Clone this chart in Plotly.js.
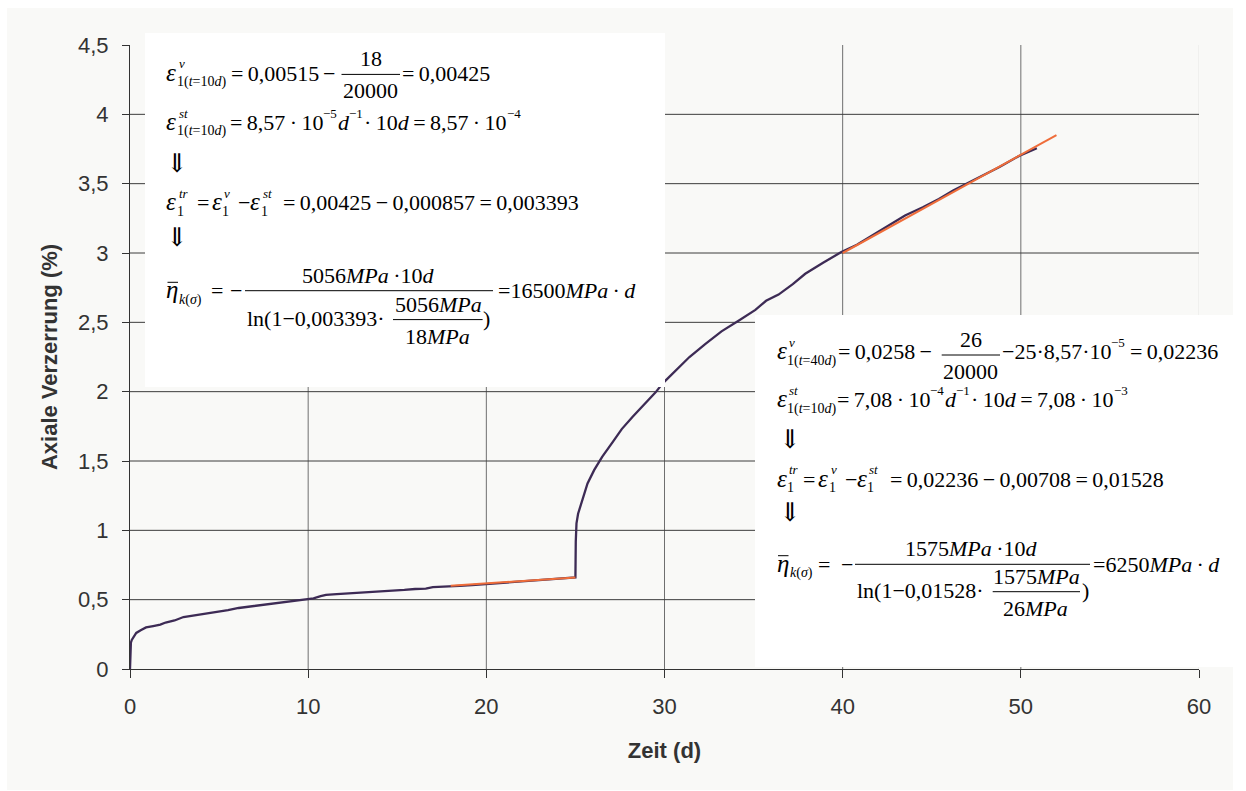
<!DOCTYPE html>
<html>
<head>
<meta charset="utf-8">
<script src="https://cdn.plot.ly/plotly-3.0.1.min.js"></script>
<style>
  html, body { margin: 0; padding: 0; background: #ffffff; }
  #chart { width: 1246px; height: 791px; }
</style>
</head>
<body>
<div id="chart"></div>
<script>
// Creep test: axial strain over time
const timeDays = [0, 0, 0.02, 0.05, 0.1, 0.2, 0.35, 0.6, 0.9, 1.3, 1.7, 2.0, 2.5, 3.0, 3.5, 4.0, 4.5, 5.0, 5.5, 6.1,
  6.7, 7.3, 7.8, 8.4, 9.0, 9.5, 9.9, 10.3, 10.7, 11.0, 11.6, 12.3, 13.0, 13.6, 14.2, 14.8, 15.4, 16.0, 16.6,
  17.0, 17.5, 17.9, 18.5, 19.2, 19.9, 20.5, 21.1, 21.7, 22.3, 22.9, 23.5, 24.1, 24.6, 24.95, 25.0, 25.02,
  25.06, 25.15, 25.4, 25.68, 26.05, 26.5, 27.1, 27.6, 28.2, 28.9, 29.5, 29.9, 30.6, 31.4, 32.3, 33.2, 34.2,
  35.1, 35.7, 36.4, 37.2, 37.9, 38.9, 39.9, 40.8, 41.7, 42.6, 43.5, 44.5, 45.4, 46.2, 47.1, 47.9, 48.8,
  49.9, 50.9];
const axialStrain = [0, 0.0, 0.12, 0.19, 0.21, 0.23, 0.26, 0.28, 0.30, 0.31, 0.32, 0.335, 0.35, 0.375, 0.385,
  0.395, 0.40, 0.415, 0.425, 0.44, 0.45, 0.46, 0.47, 0.48, 0.49, 0.497, 0.505, 0.51, 0.525, 0.535, 0.54,
  0.545, 0.55, 0.552, 0.56, 0.565, 0.57, 0.577, 0.58, 0.59, 0.595, 0.597, 0.60, 0.605, 0.612, 0.617, 0.62,
  0.628, 0.632, 0.637, 0.645, 0.65, 0.655, 0.66, 0.66, 0.92, 1.05, 1.12, 1.217, 1.338, 1.434, 1.53, 1.638,
  1.73, 1.818, 1.91, 1.995, 2.06, 2.15, 2.25, 2.345, 2.435, 2.515, 2.59, 2.655, 2.70, 2.775, 2.85, 2.93,
  3.005, 3.06, 3.13, 3.2, 3.27, 3.33, 3.39, 3.45, 3.51, 3.565, 3.62, 3.70, 3.755];

// Linear fits of the stationary creep phases
const fitLowT = [18, 25];
const fitLowStrain = [0.60, 0.66];
const fitHighT = [40, 52];
const fitHighStrain = [3.0, 3.85];

// Axis ticks and grid
const xTicks = [0, 10, 20, 30, 40, 50, 60];
const xTickText = ['0', '10', '20', '30', '40', '50', '60'];
const yTicks = [0, 0.5, 1, 1.5, 2, 2.5, 3, 3.5, 4, 4.5];
const yTickText = ['0', '0,5', '1', '1,5', '2', '2,5', '3', '3,5', '4', '4,5'];
const xGrid = [10, 20, 30, 40, 50];
const yGrid = [0.5, 1, 1.5, 2, 2.5, 3, 3.5, 4];

// Plot frame in page pixels
const L = 130, T = 45, W = 1069, H = 624;
const px = v => (v - L) / W;
const py = v => 1 - (v - T) / H;

const SANS = "'Liberation Sans', Arial, sans-serif";
const SERIF = "'Liberation Serif', 'Times New Roman', serif";
const ARROWFONT = "'DejaVu Serif', 'DejaVu Sans', serif";
const MAIN = 22, SUPSZ = 13, SUBSZ = 14, GREEK = 25;
const TH = '\u2009';
const MINUS = '\u2212', DOT = '\u00B7';

// text width measurement for chaining formula pieces
const ctx = document.createElement('canvas').getContext('2d');
function measure(html, size) {
  let w = 0, m;
  const re = /<i>(.*?)<\/i>|([^<]+)/g;
  while ((m = re.exec(html))) {
    const it = m[1] !== undefined;
    ctx.font = (it ? 'italic ' : '') + size + 'px "Liberation Serif"';
    w += ctx.measureText(it ? m[1] : m[2]).width;
  }
  return w;
}

const annotations = [];
const formulaLines = [];

function txt(s, x, base, size, anchor, family) {
  return {
    xref: 'paper', yref: 'paper', x: px(x), y: py(base - 0.3375 * size),
    xanchor: anchor || 'left', yanchor: 'middle', text: s, showarrow: false,
    font: { family: family || SERIF, size: size, color: '#000' },
    borderpad: 0, borderwidth: 0
  };
}
function rule(x0, x1, y) {
  formulaLines.push({ type: 'line', xref: 'paper', yref: 'paper', x0: px(x0), x1: px(x1), y0: py(y), y1: py(y),
    line: { color: '#000', width: 1 }, layer: 'above' });
}

// a formula row that places pieces one after another
function Row(base, x) { return { base: base, x: x }; }
function put(r, s, at, size) {
  size = size || MAIN;
  if (at !== undefined) r.x = at;
  annotations.push(txt(s, r.x, r.base, size));
  r.x += measure(s, size);
  return r;
}
function greek(r, ch, at) { return put(r, '<i>' + ch + '</i>', at, GREEK); }
function scripts(r, sp, sb, dxSup, dxSub) {
  dxSup = dxSup || 0; dxSub = dxSub || 0;
  let w = 0;
  if (sp) { annotations.push(txt(sp, r.x + dxSup, r.base - 12.5, SUPSZ)); w = Math.max(w, dxSup + measure(sp, SUPSZ)); }
  if (sb) { annotations.push(txt(sb, r.x + dxSub, r.base + 6, SUBSZ)); w = Math.max(w, dxSub + measure(sb, SUBSZ)); }
  r.x += w + 1;
  return r;
}
function frac(num, den, x0, x1, barY, numX, denX) {
  rule(x0, x1, barY);
  if (num) annotations.push(txt(num, numX !== undefined ? numX : (x0 + x1) / 2, barY - 8, MAIN, 'center'));
  if (den) annotations.push(txt(den, denX !== undefined ? denX : (x0 + x1) / 2, barY + 24, MAIN, 'center'));
}
function arrow(x, mid) { annotations.push(txt('\u21D3', x, mid + 0.345 * 26, 26, 'left', ARROWFONT)); }
function etaBar(x, base) { rule(x + 1.5, x + 12, base - 16); }

let r;
// ---- stationary phase at t = 10 d ----
r = Row(80.6);
greek(r, '\u03B5', 166); scripts(r, '<i>v</i>', '1(<i>t</i>=10<i>d</i>)', 3, 1);
put(r, '=' + TH + '0,00515', 231); put(r, MINUS, 323);
frac('18', '20000', 341.5, 400, 74.4);
put(r, '=' + TH + '0,00425', 401.5);

r = Row(130);
greek(r, '\u03B5', 166); scripts(r, '<i>st</i>', '1(<i>t</i>=10<i>d</i>)', 3, 1);
put(r, '=' + TH + '8,57' + TH + DOT + TH + '10', 230); scripts(r, MINUS + '5');
put(r, '<i>d</i>'); scripts(r, MINUS + '1');
put(r, DOT + TH + '10<i>d</i>' + TH + '=' + TH + '8,57' + TH + DOT + TH + '10'); scripts(r, MINUS + '4');

arrow(166, 163);

r = Row(210);
greek(r, '\u03B5', 166); scripts(r, '<i>tr</i>', '1', 3, 1);
put(r, '=', 196.8);
greek(r, '\u03B5', 211.5); scripts(r, '<i>v</i>', '1', 3, 1);
put(r, MINUS, 237.5);
greek(r, '\u03B5', 250); scripts(r, '<i>st</i>', '1', 3, 1);
put(r, '=' + TH + '0,00425' + TH + MINUS + TH + '0,000857' + TH + '=' + TH + '0,003393', 283);

arrow(166, 237);

r = Row(298.3);
greek(r, '\u03B7', 166); etaBar(166, 298.3); scripts(r, null, '<i>k</i>(<i>\u03C3</i>)', 0, 1);
put(r, '=', 210.5); put(r, MINUS, 230);
frac('5056<i>MPa</i>' + TH + DOT + '10<i>d</i>', null, 245, 493, 290.7, 368);
put(r, '=16500<i>MPa</i>' + TH + DOT + TH + '<i>d</i>', 497.5);
r = Row(326);
put(r, 'ln(1' + MINUS + '0,003393' + DOT, 246.5);
frac('5056<i>MPa</i>', '18<i>MPa</i>', 393, 482.6, 319.6, 438, 437);
put(r, ')', 483);

// ---- stationary phase at t = 40 d ----
r = Row(359.3);
greek(r, '\u03B5', 776.5); scripts(r, '<i>v</i>', '1(<i>t</i>=40<i>d</i>)', 3, 1);
put(r, '=' + TH + '0,0258', 838); put(r, TH + MINUS);
frac('26', '20000', 941.7, 1000, 355);
put(r, MINUS + '25' + DOT + '8,57' + DOT + '10', 1001.5); scripts(r, MINUS + '5');
put(r, '=' + TH + '0,02236', r.x + 4);

r = Row(407.3);
greek(r, '\u03B5', 776.5); scripts(r, '<i>st</i>', '1(<i>t</i>=10<i>d</i>)', 3, 1);
put(r, '=' + TH + '7,08' + TH + DOT + TH + '10', 837); scripts(r, MINUS + '4');
put(r, '<i>d</i>'); scripts(r, MINUS + '1');
put(r, DOT + TH + '10<i>d</i>' + TH + '=' + TH + '7,08' + TH + DOT + TH + '10'); scripts(r, MINUS + '3');

arrow(779, 439);

r = Row(486.7);
greek(r, '\u03B5', 776.5); scripts(r, '<i>tr</i>', '1', 3, 1);
put(r, '=', 803);
greek(r, '\u03B5', 818); scripts(r, '<i>v</i>', '1', 3, 1);
put(r, MINUS, 844.5);
greek(r, '\u03B5', 856.5); scripts(r, '<i>st</i>', '1', 3, 1);
put(r, '=' + TH + '0,02236' + TH + MINUS + TH + '0,00708' + TH + '=' + TH + '0,01528', 890);

arrow(779, 512);

r = Row(571.7);
greek(r, '\u03B7', 776.5); etaBar(776.5, 571.7); scripts(r, null, '<i>k</i>(<i>\u03C3</i>)', 0, 1);
put(r, '=', 818); put(r, MINUS, 840.5);
frac('1575<i>MPa</i>' + TH + DOT + '10<i>d</i>', null, 855, 1090, 564.3, 971.7);
put(r, '=6250<i>MPa</i>' + TH + DOT + TH + '<i>d</i>', 1093);
r = Row(598);
put(r, 'ln(1' + MINUS + '0,01528' + DOT, 856.5);
frac('1575<i>MPa</i>', '26<i>MPa</i>', 992.7, 1080, 591.7, 1036.7, 1035.8);
put(r, ')', 1081.5);

const shapes = [
  // chart area background
  { type: 'rect', xref: 'paper', yref: 'paper', x0: px(7), x1: px(1233), y0: py(8), y1: py(790),
    fillcolor: '#f9f9f7', line: { width: 0 }, layer: 'below' }
];
xGrid.forEach(v => shapes.push({ type: 'line', xref: 'x', yref: 'paper', x0: v, x1: v, y0: 0, y1: 1,
  line: { color: '#6f6f6f', width: 1 }, layer: 'below' }));
shapes.push({ type: 'line', xref: 'x', yref: 'paper', x0: 60, x1: 60, y0: 0, y1: 1,
  line: { color: '#e6e6e4', width: 1 }, layer: 'below' });
yGrid.forEach(v => shapes.push({ type: 'line', xref: 'paper', yref: 'y', x0: 0, x1: 1, y0: v, y1: v,
  line: { color: '#3c3c3c', width: 1 }, layer: 'below' }));

// white equation panels, then the formula rules on top of them
function panel(x0, y0, x1, y1) {
  return { type: 'rect', xref: 'paper', yref: 'paper', x0: px(x0), x1: px(x1), y0: py(y0), y1: py(y1),
    fillcolor: '#ffffff', line: { width: 0 }, layer: 'above' };
}
shapes.push(panel(145, 33, 665, 387));
shapes.push(panel(755, 315, 1233, 667));
formulaLines.forEach(s => shapes.push(s));

const traces = [
  { x: timeDays, y: axialStrain, type: 'scatter', mode: 'lines',
    line: { color: '#3d2b55', width: 2.3 }, hoverinfo: 'skip' },
  { x: fitLowT, y: fitLowStrain, type: 'scatter', mode: 'lines',
    line: { color: '#ef6d3a', width: 2 }, hoverinfo: 'skip' },
  { x: fitHighT, y: fitHighStrain, type: 'scatter', mode: 'lines',
    line: { color: '#ef6d3a', width: 2 }, hoverinfo: 'skip' }
];

const layout = {
  width: 1246, height: 791,
  margin: { l: L, r: 1246 - L - W, t: T, b: 791 - T - H, pad: 0 },
  paper_bgcolor: '#ffffff',
  plot_bgcolor: 'rgba(0,0,0,0)',
  showlegend: false,
  xaxis: {
    range: [0, 60], tickmode: 'array', tickvals: xTicks, ticktext: xTickText,
    ticks: 'outside', ticklen: 8, tickcolor: '#333', tickwidth: 1,
    showline: true, linecolor: '#333', linewidth: 1, showgrid: false, zeroline: false,
    automargin: false, ticklabelstandoff: 10,
    tickfont: { family: SANS, size: 22, color: '#333' },
    title: { text: '<b>Zeit (d)</b>', font: { family: SANS, size: 22, color: '#333' }, standoff: 24 }
  },
  yaxis: {
    range: [0, 4.5], tickmode: 'array', tickvals: yTicks, ticktext: yTickText,
    ticks: 'outside', ticklen: 7, tickcolor: '#333', tickwidth: 1,
    showline: true, linecolor: '#333', linewidth: 1, showgrid: false, zeroline: false,
    automargin: false, ticklabelstandoff: 9,
    tickfont: { family: SANS, size: 22, color: '#333' },
    title: { text: '<b>Axiale Verzerrung (%)</b>', font: { family: SANS, size: 22, color: '#333' }, standoff: 14 }
  },
  shapes: shapes,
  annotations: annotations
};

Plotly.newPlot('chart', traces, layout, { staticPlot: true, displayModeBar: false });
</script>
</body>
</html>
